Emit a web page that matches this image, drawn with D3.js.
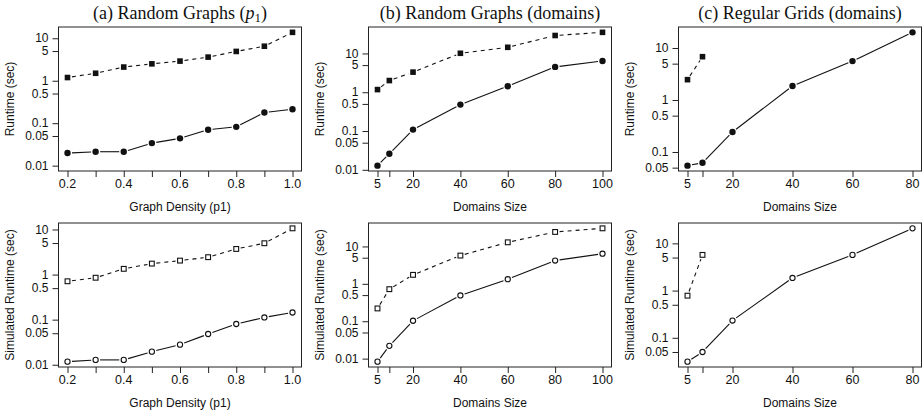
<!DOCTYPE html>
<html>
<head>
<meta charset="utf-8">
<script src="https://cdn.jsdelivr.net/npm/d3@7"></script>
<style>
  body { margin: 0; background: #fff; }
  text { font-family: "Liberation Sans", Arial, sans-serif; fill: #111; }
  .main { font-family: "Liberation Serif", "Times New Roman", serif; font-size: 18px; }
</style>
</head>
<body>
<script>
// x values
const density = [0.2, 0.3, 0.4, 0.5, 0.6, 0.7, 0.8, 0.9, 1.0]
const domainsRand = [5, 10, 20, 40, 60, 80, 100]
const domainsGrid = [5, 10, 20, 40, 60, 80]

// tick labels (R drops the ones that would overlap)
const densityLabels = ['0.2', '0.4', '0.6', '0.8', '1.0']
const domainsRandLabels = ['5', '20', '40', '60', '80', '100']
const domainsGridLabels = ['5', '20', '40', '60', '80']
const yTicks = [0.01, 0.05, 0.1, 0.5, 1, 5, 10]

// top row : runtime (sec), squares dashed / circles solid
const randP1Sq = [1.19, 1.5, 2.1, 2.5, 2.9, 3.6, 4.9, 6.5, 13.8]
const randP1Ci = [0.0198, 0.0213, 0.0213, 0.034, 0.044, 0.070, 0.082, 0.178, 0.213]
const randDomSq = [1.17, 2.0, 3.3, 10.1, 14.4, 29, 35]
const randDomCi = [0.0128, 0.026, 0.109, 0.48, 1.43, 4.5, 6.4]
const gridDomSq = [2.46, 6.8]
const gridDomCi = [0.0546, 0.062, 0.243, 1.86, 5.6, 20]

// bottom row : simulated runtime (sec)
const simP1Sq = [0.71, 0.85, 1.34, 1.75, 2.04, 2.43, 3.7, 4.95, 10.6]
const simP1Ci = [0.0117, 0.0128, 0.0128, 0.0195, 0.0279, 0.048, 0.080, 0.112, 0.144]
const simRandDomSq = [0.22, 0.72, 1.74, 5.7, 12.9, 24.4, 30.5]
const simRandDomCi = [0.0083, 0.022, 0.103, 0.49, 1.33, 4.2, 6.4]
const simGridDomSq = [0.78, 5.7]
const simGridDomCi = [0.0312, 0.050, 0.232, 1.85, 5.7, 20.8]

const W = 924, H = 413
const colLeft = [58.5, 368.5, 678.5]
const rowTop = [27, 223]
const pw = 243, ph = 144

const svg = d3.select('body').append('svg')
  .attr('width', W).attr('height', H)

const panels = [
  { col: 0, row: 0, x: density, xl: densityLabels, sq: randP1Sq, ci: randP1Ci, floor: 0.01, filled: true,
    xt: 'Graph Density (p1)', yt: 'Runtime (sec)' },
  { col: 1, row: 0, x: domainsRand, xl: domainsRandLabels, sq: randDomSq, ci: randDomCi, filled: true,
    xt: 'Domains Size', yt: 'Runtime (sec)' },
  { col: 2, row: 0, x: domainsGrid, xl: domainsGridLabels, sq: gridDomSq, ci: gridDomCi, filled: true,
    xt: 'Domains Size', yt: 'Runtime (sec)' },
  { col: 0, row: 1, x: density, xl: densityLabels, sq: simP1Sq, ci: simP1Ci, filled: false,
    xt: 'Graph Density (p1)', yt: 'Simulated Runtime (sec)' },
  { col: 1, row: 1, x: domainsRand, xl: domainsRandLabels, sq: simRandDomSq, ci: simRandDomCi, filled: false,
    xt: 'Domains Size', yt: 'Simulated Runtime (sec)' },
  { col: 2, row: 1, x: domainsGrid, xl: domainsGridLabels, sq: simGridDomSq, ci: simGridDomCi, filled: false,
    xt: 'Domains Size', yt: 'Simulated Runtime (sec)' }
]

// R style 4% padding
function pad(lo, hi) {
  const d = (hi - lo) * 0.04
  return [lo - d, hi + d]
}

panels.forEach(p => {
  const left = colLeft[p.col], top = rowTop[p.row]
  const g = svg.append('g').attr('transform', `translate(${left},${top})`)

  const x = d3.scaleLinear().domain(pad(d3.min(p.x), d3.max(p.x))).range([0, pw])

  const all = p.sq.concat(p.ci)
  let lo = Math.log10(d3.min(all)), hi = Math.log10(d3.max(all))
  if (p.floor) lo = Math.log10(p.floor)
  const ld = pad(lo, hi)
  const y = d3.scaleLog().domain([Math.pow(10, ld[0]), Math.pow(10, ld[1])]).range([ph, 0])

  // box
  g.append('rect').attr('width', pw).attr('height', ph)
    .attr('fill', 'none').attr('stroke', '#222').attr('stroke-width', 1)

  // x axis
  const ax = g.append('g').attr('transform', `translate(0,${ph})`)
    .call(d3.axisBottom(x).tickValues(p.x).tickSize(6).tickFormat(''))
  ax.select('.domain').remove()
  ax.selectAll('line').attr('stroke', '#222')
  g.selectAll('.xlab').data(p.xl).enter().append('text')
    .attr('x', d => x(+d)).attr('y', ph + 17)
    .attr('text-anchor', 'middle').style('font-size', '12.5px').text(d => d)

  // y axis
  const yv = yTicks.filter(v => v >= y.domain()[0] && v <= y.domain()[1])
  const ay = g.append('g')
    .call(d3.axisLeft(y).tickValues(yv).tickSize(6).tickFormat(''))
  ay.select('.domain').remove()
  ay.selectAll('line').attr('stroke', '#222')
  g.selectAll('.ylab').data(yv).enter().append('text')
    .attr('x', -10).attr('y', d => y(d)).attr('dy', '0.35em')
    .attr('text-anchor', 'end').style('font-size', '12px').text(d => d)

  // axis titles
  g.append('text').attr('x', pw / 2).attr('y', ph + 40)
    .attr('text-anchor', 'middle').style('font-size', '12px').text(p.xt)
  g.append('text').attr('transform', `translate(-49,${ph / 2}) rotate(-90)`)
    .attr('dy', '0.35em').attr('text-anchor', 'middle').style('font-size', '12px').text(p.yt)

  // series : lines with gaps around points (type = "b")
  function drawSeries(vals, dashed, shape) {
    const pts = vals.map((v, i) => [x(p.x[i]), y(v)])
    const gap = 4.5
    for (let i = 0; i < pts.length - 1; i++) {
      const [x0, y0] = pts[i], [x1, y1] = pts[i + 1]
      const len = Math.hypot(x1 - x0, y1 - y0)
      if (len <= gap * 2) continue
      const ux = (x1 - x0) / len, uy = (y1 - y0) / len
      g.append('line')
        .attr('x1', x0 + ux * gap).attr('y1', y0 + uy * gap)
        .attr('x2', x1 - ux * gap).attr('y2', y1 - uy * gap)
        .attr('stroke', '#111').attr('stroke-width', 1.1)
        .attr('stroke-dasharray', dashed ? '4,4' : null)
    }
    pts.forEach(([px, py]) => {
      if (shape === 'sq') {
        const s = p.filled ? 5.6 : 4.8
        g.append('rect').attr('x', px - s / 2).attr('y', py - s / 2)
          .attr('width', s).attr('height', s)
          .attr('fill', p.filled ? '#111' : '#fff')
          .attr('stroke', '#111').attr('stroke-width', p.filled ? 0 : 1.1)
      } else {
        g.append('circle').attr('cx', px).attr('cy', py)
          .attr('r', p.filled ? 3.2 : 2.6)
          .attr('fill', p.filled ? '#111' : '#fff')
          .attr('stroke', '#111').attr('stroke-width', p.filled ? 0 : 1.1)
      }
    })
  }
  drawSeries(p.sq, true, 'sq')
  drawSeries(p.ci, false, 'ci')
})

// panel titles
const titles = svg.append('g')
const t0 = titles.append('text').attr('class', 'main')
  .attr('x', colLeft[0] + pw / 2).attr('y', 19).attr('text-anchor', 'middle')
t0.append('tspan').text('(a) Random Graphs (')
t0.append('tspan').style('font-style', 'italic').text('p')
t0.append('tspan').attr('dy', 3).style('font-size', '13px').text('1')
t0.append('tspan').attr('dy', -3).text(')')
titles.append('text').attr('class', 'main')
  .attr('x', colLeft[1] + pw / 2).attr('y', 19).attr('text-anchor', 'middle')
  .text('(b) Random Graphs (domains)')
titles.append('text').attr('class', 'main')
  .attr('x', colLeft[2] + pw / 2).attr('y', 19).attr('text-anchor', 'middle')
  .text('(c) Regular Grids (domains)')
</script>
</body>
</html>
